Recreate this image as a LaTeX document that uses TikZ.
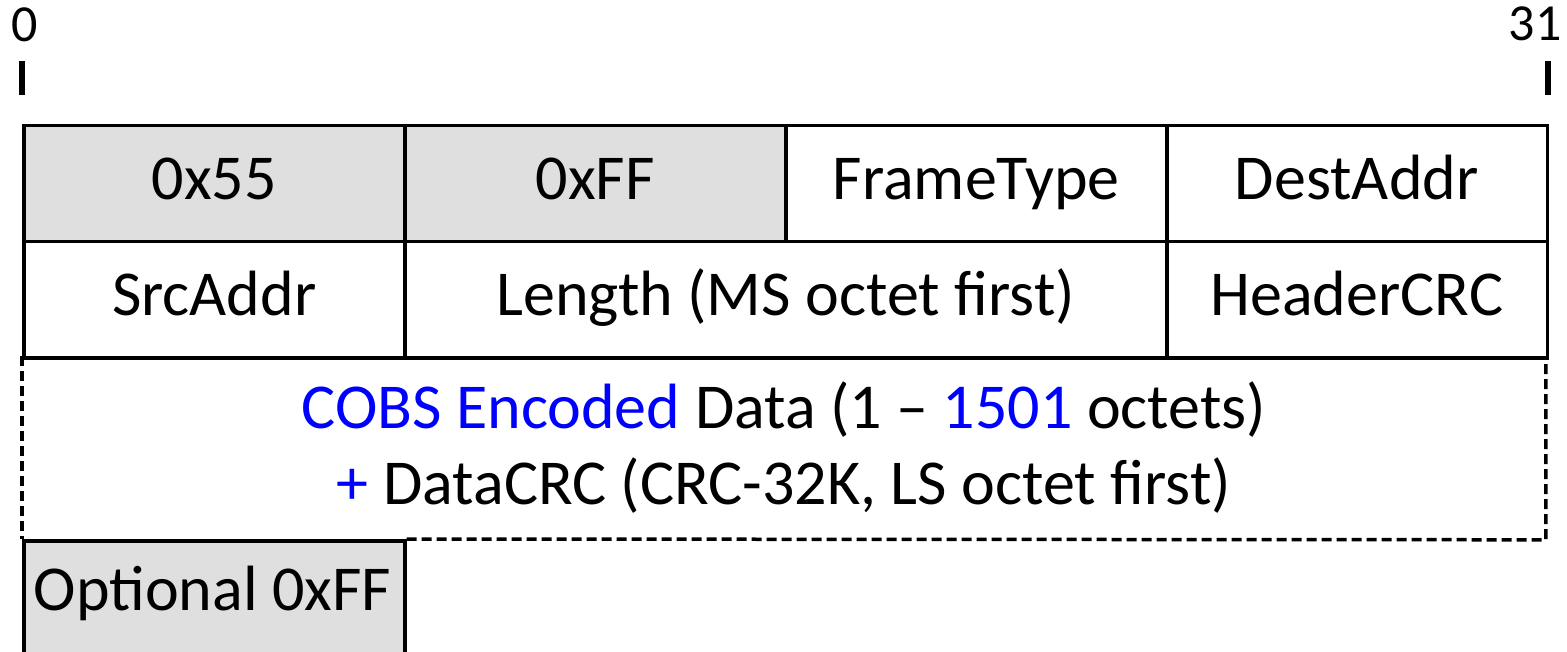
\documentclass[tikz,border=0pt]{standalone}
\usepackage{fontspec}
\setmainfont{Carlito}
\definecolor{cellgray}{HTML}{DFDFDF}
\definecolor{cobsblue}{HTML}{0000FF}
\tikzset{
  cell/.style={draw, line width=1.75pt, minimum height=58pt, minimum width=190.5pt, inner sep=0pt, anchor=north west, text height=24pt, text depth=8pt, font=\fontsize{32}{38}\selectfont},
  gcell/.style={cell, fill=cellgray},
  tick/.style={line width=3pt},
  bitlabel/.style={font=\fontsize{26}{30}\selectfont, inner sep=0pt},
  dashedge/.style={line width=1.75pt, dash pattern=on 5pt off 2.5pt}
}
\begin{document}
\begin{tikzpicture}[x=0.5pt,y=-0.5pt]
\useasboundingbox (0,0) rectangle (1567,652);
% bit labels and ticks
\node[bitlabel] (b0) at (25,25) {0};
\node[bitlabel] (b31) at (1535,24) {31};
\coordinate (t0a) at (22,61); \coordinate (t0b) at (22,95);
\coordinate (t31a) at (1548,61); \coordinate (t31b) at (1548,95);
\draw[tick] (t0a) -- (t0b);
\draw[tick] (t31a) -- (t31b);
% row 1
\node[gcell] (c55) at (22,124) {0x55};
\node[gcell] (cff) at (403,124) {0xFF};
\node[cell] (ctype) at (784,124) {FrameType};
\node[cell] (cdest) at (1164.5,124) {DestAddr};
% row 2
\node[cell] (csrc) at (22,240) {SrcAddr};
\node[cell, minimum width=381pt] (clen) at (403,240) {Length (MS octet first)};
\node[cell] (chcrc) at (1164.5,240) {HeaderCRC};
% data region
\node[anchor=north west, minimum width=761.5pt, minimum height=91.5pt, inner sep=0pt, align=center, font=\fontsize{32}{38}\selectfont] (data) at (22,356)
  {\textcolor{cobsblue}{COBS Encoded} Data (1 -- \textcolor{cobsblue}{1501} octets)\\\textcolor{cobsblue}{+} DataCRC (CRC-32K, LS octet first)};
% optional
\node[gcell, minimum height=70pt] (opt) at (22,539) {};
\node[font=\fontsize{32}{38}\selectfont, inner sep=0pt, text height=24pt, text depth=8pt] (opttext) at (212.5,594) {Optional 0xFF};
\draw[dashedge] (data.north west) -- (opt.north west);
\draw[dashedge] (opt.north east) -- (data.south east) -- (data.north east);
\end{tikzpicture}
\end{document}
